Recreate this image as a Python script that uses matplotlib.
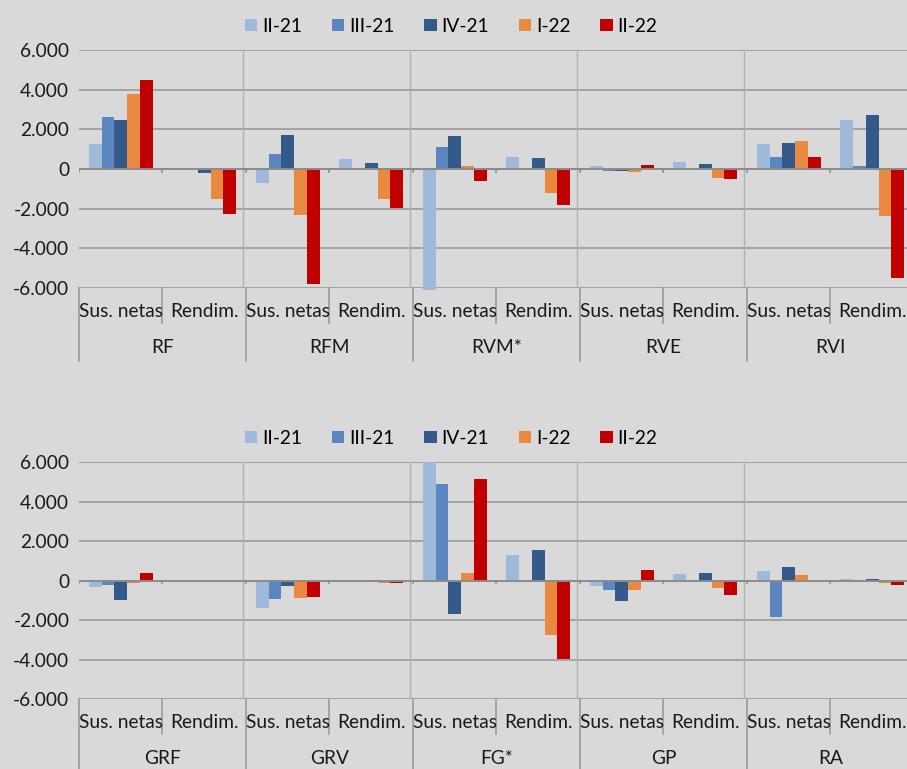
import numpy as np
import matplotlib
matplotlib.use("Agg")
import matplotlib.pyplot as plt
from matplotlib.patches import Patch
from matplotlib.ticker import FuncFormatter

plt.rcParams['font.family'] = ['Lato', 'DejaVu Sans']

# datos
series = ["II-21", "III-21", "IV-21", "I-22", "II-22"]
colores = ["#9FB9DB", "#5B86C0", "#345A8A", "#E8893F", "#C00000"]
subcats = ["Sus. netas", "Rendim."]
grupos_arriba = ["RF", "RFM", "RVM*", "RVE", "RVI"]
grupos_abajo = ["GRF", "GRV", "FG*", "GP", "RA"]

# cada lista: valores por subcategoria (RF sus, RF rend, RFM sus, ...)
arriba_II21 = [1250, 30, -700, 490, -6080, 590, 150, 340, 1260, 2470]
arriba_III21 = [2620, 20, 760, 0, 1110, 0, -80, -20, 600, 150]
arriba_IV21 = [2470, -220, 1730, 290, 1650, 550, -100, 250, 1330, 2700]
arriba_I22 = [3780, -1530, -2320, -1530, 150, -1190, -150, -450, 1410, -2370]
arriba_II22 = [4470, -2270, -5820, -1980, -600, -1800, 220, -500, 600, -5500]

abajo_II21 = [-340, -10, -1400, -10, 6000, 1280, -290, 320, 500, 80]
abajo_III21 = [-220, -10, -930, -20, 4880, 0, -490, 50, -1830, 30]
abajo_IV21 = [-990, -20, -290, 20, -1700, 1550, -1030, 400, 670, 70]
abajo_I22 = [-120, -30, -890, -120, 390, -2740, -490, -390, 300, -120]
abajo_II22 = [370, -40, -820, -120, 5150, -3970, 520, -740, -30, -240]

yticks = [-6000, -4000, -2000, 0, 2000, 4000, 6000]

fondo = "#D9D9D9"
texto = "#1a1a1a"
fs = 13.8
fig = plt.figure(figsize=(9.07, 7.69), dpi=100, facecolor=fondo)


def panel(pos, grupos, valores):
    ax = fig.add_axes(pos, facecolor=fondo)
    n = len(grupos) * len(subcats)
    x = np.arange(n) + 0.5
    w = 0.153
    for k, (vals, c) in enumerate(zip(valores, colores)):
        ax.bar(x + (k - 2) * w, vals, width=w, color=c, clip_on=False, zorder=3)
    ax.set_xlim(0, n)
    ax.set_ylim(-6000, 6000)
    ax.set_yticks(yticks)
    ax.yaxis.set_major_formatter(FuncFormatter(lambda v, p: f"{int(v):,}".replace(",", ".")))
    ax.tick_params(axis="y", length=0, labelsize=fs, pad=7, labelcolor=texto)
    ax.set_xticks([])
    for s in ax.spines.values():
        s.set_visible(False)
    for yt in yticks:
        ax.axhline(yt, color="#9a9a9a", lw=1.2, zorder=1)
    ax.axhline(0, color="#8c8c8c", lw=1.4, zorder=4)
    # separadores verticales entre grupos
    for g in range(1, len(grupos)):
        ax.axvline(g * 2 - 0.04, color="#b0b0b0", lw=1, zorder=1)
    # marcas en el eje cero
    tr0 = ax.get_xaxis_transform()
    for i in range(n + 1):
        ax.plot([i, i], [0, -150], color="#8c8c8c", lw=1.2, zorder=4)
    # etiquetas de categorias en dos niveles
    for i in range(n):
        ax.text(i + 0.5, -0.10, subcats[i % 2], transform=tr0, ha="center", va="center",
                fontsize=fs, color=texto)
    for i in range(n + 1):
        largo = 0.305 if i % 2 == 0 else 0.148
        ax.plot([i, i], [0, -largo], transform=tr0, color="#9a9a9a", lw=1.2, clip_on=False)
    for g, nombre in enumerate(grupos):
        ax.text(g * 2 + 1, -0.252, nombre, transform=tr0, ha="center", va="center",
                fontsize=fs, color=texto)
    handles = [Patch(facecolor=c, label=s) for s, c in zip(series, colores)]
    ax.legend(handles=handles, ncol=5, loc="center", bbox_to_anchor=(0.4455, 1.10),
              frameon=False, fontsize=fs, handlelength=0.65, handleheight=0.65,
              handletextpad=0.25, columnspacing=1.55)
    return ax


panel([0.0871, 0.6255, 0.9206, 0.3095], grupos_arriba,
      [arriba_II21, arriba_III21, arriba_IV21, arriba_I22, arriba_II22])
panel([0.0871, 0.0910, 0.9206, 0.3082], grupos_abajo,
      [abajo_II21, abajo_III21, abajo_IV21, abajo_I22, abajo_II22])

fig.savefig("out.png", dpi=100, facecolor=fondo)
